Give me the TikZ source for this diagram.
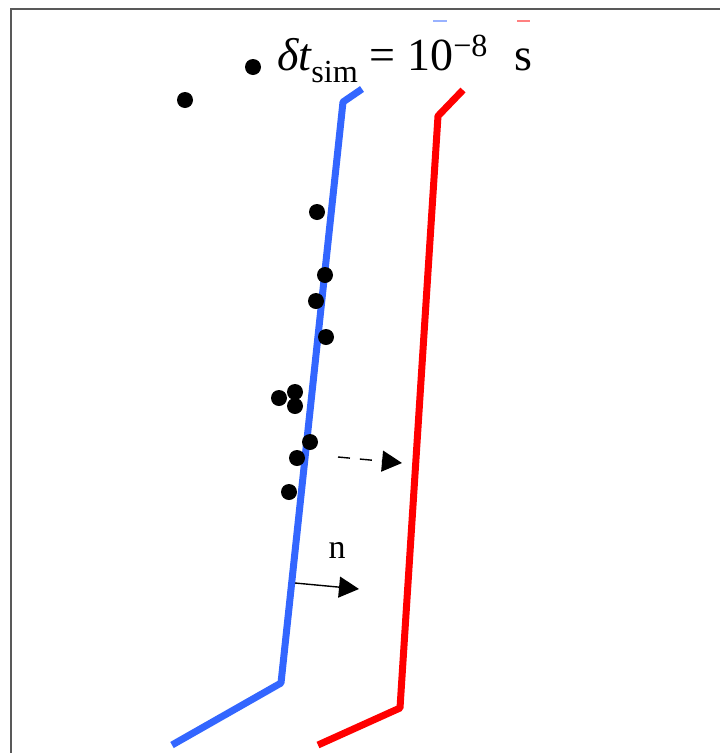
\documentclass[tikz,border=0pt]{standalone}
\usepackage{fontspec}
\setmainfont{Liberation Serif}
\usetikzlibrary{arrows.meta, positioning}

\definecolor{frontblue}{RGB}{51,102,255}
\definecolor{frontred}{RGB}{255,0,0}

\begin{document}
\begin{tikzpicture}[x=1pt, y=-1pt,
                    front/.style={line width=7pt, line join=bevel},
                    particle/.style={circle, fill=black, inner sep=0pt, minimum size=16pt},
                    arrow/.style={-{Triangle[length=20pt, width=21pt]}, line width=1.4pt},
                    label/.style={font=\fontsize{34}{40}\selectfont, inner sep=0pt}
                ]
                \useasboundingbox (0,0) rectangle (720,753);
                \draw[gray!70!black, line width=2.5pt] (11,753) -- (11,9) -- (720,9);

                % fronts before and after one step
                \draw[front, frontblue] (172,745) -- (281,683) -- (343,102) -- (362,89);
                \draw[front, frontred] (318,745) -- (400,708) -- (438,116) -- (463,90);
                \draw[frontblue!50, line width=2pt] (433,21) -- (447,21);
                \draw[frontred!50, line width=2pt] (517,21) -- (530,21);

                \foreach \px/\py [count=\i] in {185/100, 253/67, 317/212, 325/275, 316/301, 326/337,
                                                279/398, 295/392, 295/406, 310/442, 297/458, 289/492}
                    \node[particle] (p\i) at (\px,\py) {};

                \node[label, font=\fontsize{46}{54}\selectfont, anchor=base west] (dt) at (277,70)
                    {{\itshape δt}\textsubscript{sim} = 10\raisebox{0.2ex}{\textsuperscript{−8}}\,\, s};

                \coordinate (move0) at (338,457);
                \coordinate (move1) at (402,463);
                \draw[arrow, dash pattern=on 12pt off 10pt] (move0) -- (move1);

                \coordinate (n0) at (295,583);
                \coordinate (n1) at (359,589);
                \draw[arrow] (n0) -- (n1);
                \node[label] (normal) at (337,550) {n};
\end{tikzpicture}
\end{document}
